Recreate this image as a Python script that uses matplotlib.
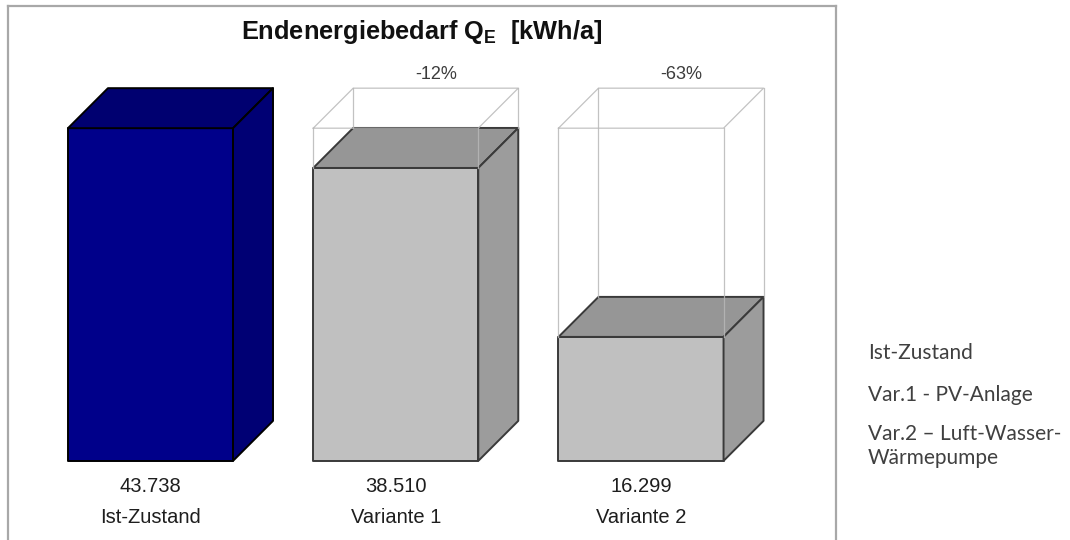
import matplotlib
matplotlib.use("Agg")
import matplotlib.pyplot as plt
from matplotlib import font_manager
from matplotlib.patches import Polygon

# values in kWh/a (thousands, German decimal point)
categories = ["Ist-Zustand", "Variante 1", "Variante 2"]
values = [43.738, 38.510, 16.299]
value_labels = ["43.738", "38.510", "16.299"]
change_labels = ["", "-12%", "-63%"]
legend_items = ["Ist-Zustand", "Var.1 - PV-Anlage", "Var.2 \u2013 Luft-Wasser-\nW\u00e4rmepumpe"]

# pick a narrow sans if there is one
names = {f.name for f in font_manager.fontManager.ttflist}
chart_font = "Liberation Sans Narrow" if "Liberation Sans Narrow" in names else "Liberation Sans"
plt.rcParams["mathtext.fontset"] = "custom"
plt.rcParams["mathtext.rm"] = chart_font + ":bold"
plt.rcParams["mathtext.it"] = chart_font + ":bold"
plt.rcParams["mathtext.bf"] = chart_font + ":bold"

fig = plt.figure(figsize=(10.7, 5.4), dpi=100)
ax = fig.add_axes([8 / 1070, 0, 828 / 1070, 534 / 540])
ax.set_xlim(-0.581, 2.795)
ax.set_ylim(-10.4, 59.8)
ax.set_xticks([])
ax.set_yticks([])
for side in ["left", "top", "right"]:
    ax.spines[side].set_color("#a8a8a8")
    ax.spines[side].set_linewidth(1.6)
ax.spines["bottom"].set_visible(False)

width = 0.673
dx = 0.163   # depth of the boxes
dy = 5.26

ref = values[0]
for i, v in enumerate(values):
    x0 = i - width / 2
    x1 = i + width / 2
    if i == 0:
        front_c, top_c, side_c, edge_c = "#00008a", "#000070", "#000074", "#000000"
    else:
        front_c, top_c, side_c, edge_c = "#c0c0c0", "#969696", "#9c9c9c", "#3a3a3a"

    front = [(x0, 0), (x1, 0), (x1, v), (x0, v)]
    top = [(x0, v), (x1, v), (x1 + dx, v + dy), (x0 + dx, v + dy)]
    side = [(x1, 0), (x1 + dx, dy), (x1 + dx, v + dy), (x1, v)]
    for pts, c in [(front, front_c), (top, top_c), (side, side_c)]:
        ax.add_patch(Polygon(pts, closed=True, facecolor=c, edgecolor=edge_c,
                             linewidth=1.4, joinstyle="round", zorder=2))

    # wireframe of the reference box above the smaller bars
    if i > 0:
        wire = dict(color="#b8b8b8", linewidth=0.9, alpha=0.85, zorder=3)
        ax.plot([x0, x0], [v, ref], **wire)
        ax.plot([x1, x1], [v, ref], **wire)
        ax.plot([x0 + dx, x0 + dx], [v + dy, ref + dy], **wire)
        ax.plot([x1 + dx, x1 + dx], [v + dy, ref + dy], **wire)
        ax.plot([x0, x1, x1 + dx, x0 + dx, x0], [ref, ref, ref + dy, ref + dy, ref], **wire)
        ax.text(i + dx, 50.8, change_labels[i], ha="center", va="center",
                fontsize=13, family=chart_font, color="#3c3c3c")

    ax.text(i, -3.4, value_labels[i], ha="center", va="center",
            fontsize=14.5, family=chart_font, color="#1e1e1e")
    ax.text(i, -7.5, categories[i], ha="center", va="center",
            fontsize=14.5, family=chart_font, color="#1e1e1e")

ax.text(sum(ax.get_xlim()) / 2, 56.4, r"Endenergiebedarf Q$_\mathrm{E}$  [kWh/a]",
        ha="center", va="center", fontsize=18.3, fontweight="bold",
        family=chart_font, color="#111111")

# legend text on the right
legend_y = [353, 395, 446]
for txt, y in zip(legend_items, legend_y):
    fig.text(868 / 1070, 1 - y / 540, txt, ha="left", va="center",
             fontsize=15, family="Lato", color="#404040", linespacing=1.25)

fig.savefig("out.png", dpi=100)
